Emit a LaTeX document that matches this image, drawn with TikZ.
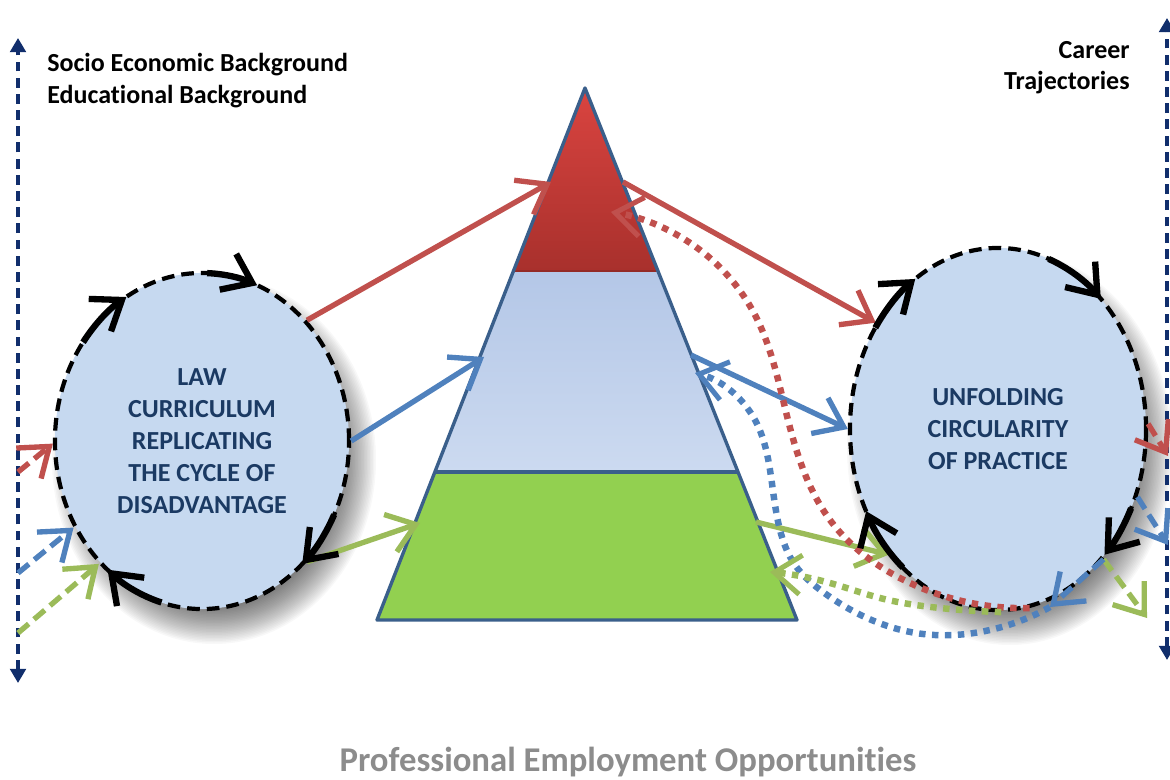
\documentclass[tikz,border=0pt]{standalone}
\usepackage{fontspec}
\setmainfont{Carlito}[Ligatures=NoCommon]
\usetikzlibrary{arrows.meta,hobby,shapes.geometric}
\definecolor{navy}{HTML}{112E6C}
\definecolor{darktext}{HTML}{1B3A63}
\definecolor{redline}{HTML}{C0504D}
\definecolor{blueline}{HTML}{4F81BD}
\definecolor{greenline}{HTML}{9BBB59}
\definecolor{ellfill}{HTML}{C6D9F0}
\definecolor{pyredge}{HTML}{3A5F8B}
\definecolor{pyrgreen}{HTML}{92D050}
\definecolor{bandtop}{HTML}{B4C7E7}
\definecolor{bandbot}{HTML}{CCDAF0}
\definecolor{peaktop}{HTML}{DC4541}
\definecolor{peakbot}{HTML}{A8302C}
\definecolor{footgray}{HTML}{8C8C8C}
\tikzset{practice/.style={ellipse, draw=black, fill=ellfill, line width=3pt,
           dash pattern=on 9pt off 5pt, inner sep=0pt, align=center,
           text=darktext, font=\fontsize{18.5}{22.8}\selectfont\bfseries},
         flow/.style={line width=3.8pt, -{Straight Barb[length=19pt,width=28pt]}},
         flowdash/.style={flow, dash pattern=on 10pt off 5pt},
         flowdot/.style={line width=4.6pt, dash pattern=on 4.6pt off 4.6pt,
           -{Straight Barb[length=19pt,width=28pt,line width=3.6pt]}},
         spin/.style={line width=4.5pt, -{Straight Barb[length=19pt,width=28pt]}},
         sidearrow/.style={navy, line width=2.5pt, dash pattern=on 7pt off 4.5pt,
           {Triangle[length=10pt,width=11pt]}-{Triangle[length=10pt,width=11pt]}},
         heading/.style={inner sep=0pt, font=\fontsize{18.5}{22.5}\selectfont\bfseries}}

\begin{document}
\begin{tikzpicture}[x=0.025cm, y=-0.025cm, use Hobby shortcut]
  \useasboundingbox (0,0) rectangle (1170,780);

  % soft shadows under the two cycles
  \foreach \s in {0,1.5,...,36} {
    \fill[black, opacity=0.028] (214,460) ellipse [x radius=126+\s, y radius=148+\s];
    \fill[black, opacity=0.028] (1010,448) ellipse [x radius=127+\s, y radius=161+\s];
  }

  \node[practice, minimum width=7.35cm, minimum height=8.4cm] (law) at (202,441)
    {LAW\\CURRICULUM\\REPLICATING\\THE CYCLE OF\\DISADVANTAGE};
  \node[practice, minimum width=7.4cm, minimum height=9.05cm] (unfold) at (998,429)
    {UNFOLDING\\CIRCULARITY\\OF PRACTICE};

  % the pyramid
  \coordinate (apex) at (585,88);
  \coordinate (baseL) at (377,620);
  \coordinate (baseR) at (797,620);
  \begin{scope}
    \clip (apex) -- (baseL) -- (baseR) -- cycle;
    \fill[pyrgreen] (350,472) rectangle (820,625);
    \shade[top color=bandtop, bottom color=bandbot] (350,272) rectangle (820,472);
    \shade[top color=peaktop, bottom color=peakbot] (350,80) rectangle (820,272);
    \draw[peakbot!80!black, line width=1.2pt, opacity=0.6] (350,271) -- (820,271);
  \end{scope}
  \draw[pyredge, line width=2.4pt, line join=round] (apex) -- (baseL) -- (baseR) -- cycle;
  \draw[pyredge, line width=2.4pt] (435,472) -- (738,472);

  \coordinate (peakL) at (551,182);
  \coordinate (peakR) at (623,182);
  \coordinate (peakIn) at (611,212);
  \coordinate (midL) at (484,357);
  \coordinate (midR) at (691,355);
  \coordinate (midIn) at (695,373);
  \coordinate (lowL) at (420,523);
  \coordinate (lowR) at (756,522);
  \coordinate (lowIn) at (770,572);

  % background axes
  \coordinate (socTop) at (18,38);
  \coordinate (socBot) at (18,683);
  \coordinate (socR) at (18,472);
  \coordinate (socB) at (18,573);
  \coordinate (socG) at (18,633);
  \coordinate (carTop) at (1167,18);
  \coordinate (carBot) at (1167,660);
  \coordinate (outR) at (1168,456);
  \coordinate (outB) at (1168,545);
  \coordinate (outG) at (1147,618);
  \coordinate (loopB) at (1050,607);

  \draw[sidearrow] (socBot) -- (socTop);
  \draw[sidearrow] (carBot) -- (carTop);

  \draw[flow, redline] (law.49) -- (peakL);
  \draw[flow, redline] (peakR) -- (unfold.139);
  \draw[flow, blueline] (law.east) -- (midL);
  \draw[flow, blueline] (midR) -- (unfold.west);
  \draw[flow, greenline] (law.311) -- (lowL);
  \draw[flow, greenline] (lowR) -- (unfold.229);

  \draw[flowdash, redline] (socR) -- (law.181);
  \draw[flowdash, blueline] (socB) -- (law.214);
  \draw[flowdash, greenline] (socG) -- (law.230);
  \draw[flowdash, redline] (unfold.2) -- (outR);
  \draw[flowdash, blueline] (unfold.334) -- (outB);
  \draw[flowdash, greenline] (unfold.309) -- (outG);
  \draw[flowdash, blueline] (unfold.309) -- (loopB);

  \draw[flowdot, redline] (unfold.280) .. (910,583) .. (830,520) .. (788,420)
    .. (755,315) .. (700,250) .. (peakIn);
  \draw[flowdot, blueline] (loopB) .. (980,632) .. (923,634) .. (867,618) .. (823,592)
    .. (795,565) .. (780,530) .. (770,470) .. (755,420) .. (midIn);
  \draw[flowdot, greenline] (unfold.271) .. (940,608) .. (880,598) .. (830,583) .. (lowIn);

  % turning arrows on the cycles
  \foreach \a/\b in {-88/-68, -144/-121, 26/47, 106/130}
    \draw[spin] (law.center) ++(\a:147 and 168)
      arc[start angle=\a, end angle=\b, x radius=147, y radius=168];
  \foreach \a/\b in {-146/-124, -70/-46, 26/44, 130/153}
    \draw[spin] (unfold.center) ++(\a:148 and 181)
      arc[start angle=\a, end angle=\b, x radius=148, y radius=181];

  \node[heading, anchor=north west, align=left] (socio) at (47,53)
    {Socio Economic Background\\Educational Background};
  \node[heading, anchor=north east, align=right] (career) at (1130,41)
    {Career\\Trajectories};
  \node[inner sep=0pt, anchor=base, text=footgray, font=\fontsize{24.7}{28}\selectfont\bfseries]
    (jobs) at (628,771) {Professional Employment Opportunities};
\end{tikzpicture}
\end{document}
